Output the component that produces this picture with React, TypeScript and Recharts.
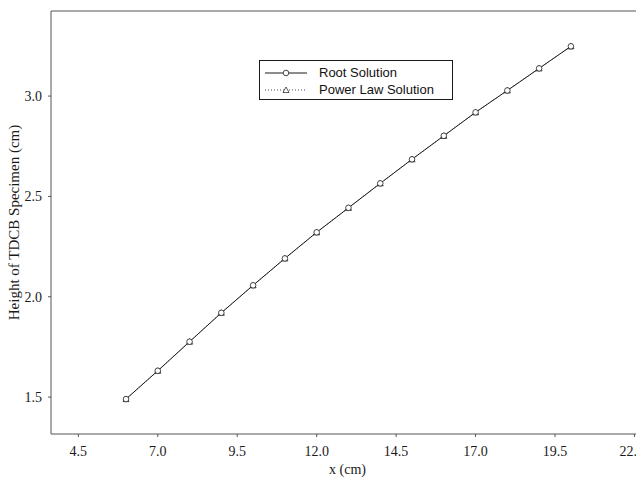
import React from "react";
import { LineChart, Line, XAxis, YAxis, ReferenceLine } from "recharts";

const lengths = [6, 7, 8, 9, 10, 11, 12, 13, 14, 15, 16, 17, 18, 19, 20];
const rootSolution = [
  1.49, 1.631, 1.776, 1.92, 2.057, 2.191, 2.321, 2.443, 2.565, 2.685, 2.802,
  2.919, 3.028, 3.138, 3.248,
];
const powerLawSolution = [
  1.49, 1.631, 1.776, 1.92, 2.057, 2.191, 2.321, 2.443, 2.565, 2.685, 2.802,
  2.919, 3.028, 3.138, 3.248,
];
const xTicks = [4.5, 7, 9.5, 12, 14.5, 17, 19.5, 22];
const yTicks = [1.5, 2, 2.5, 3];

const data = lengths.map((x, i) => ({
  x,
  root: rootSolution[i],
  power: powerLawSolution[i],
}));

const serif = "'Liberation Serif', 'DejaVu Serif', serif";
const sans = "'Liberation Sans', Arial, sans-serif";
const ink = "#1a1a1a";

const Triangle = (props: any) => {
  const { cx, cy } = props;
  if (cx == null || cy == null) return null;
  return (
    <path
      d={`M${cx},${cy - 3} L${cx + 3},${cy + 2.5} L${cx - 3},${cy + 2.5} Z`}
      fill="#fff"
      stroke={ink}
      strokeWidth={0.8}
    />
  );
};

const LegendBox = () => (
  <div
    style={{
      position: "absolute",
      left: 259,
      top: 60,
      width: 194,
      height: 40,
      border: `1px solid ${ink}`,
      background: "#fff",
      fontFamily: sans,
      fontSize: 13,
      color: "#111",
      boxSizing: "border-box",
      paddingTop: 3,
    }}
  >
    <div style={{ display: "flex", alignItems: "center", height: 17 }}>
      <svg width={56} height={10}>
        <line x1={5} y1={5} x2={47} y2={5} stroke={ink} strokeWidth={1} />
        <circle cx={26} cy={5} r={2.8} fill="#fff" stroke={ink} strokeWidth={0.8} />
      </svg>
      <span style={{ marginLeft: 3 }}>Root Solution</span>
    </div>
    <div style={{ display: "flex", alignItems: "center", height: 17 }}>
      <svg width={56} height={10}>
        <line
          x1={5}
          y1={5}
          x2={47}
          y2={5}
          stroke={ink}
          strokeWidth={0.8}
          strokeDasharray="1 2"
        />
        <path d="M26,2 L29,7.5 L23,7.5 Z" fill="#fff" stroke={ink} strokeWidth={0.7} />
      </svg>
      <span style={{ marginLeft: 3 }}>Power Law Solution</span>
    </div>
  </div>
);

export default function App() {
  return (
    <div
      style={{
        position: "relative",
        margin: "-8px 0 0 -8px",
        width: 644,
        height: 478,
        overflow: "hidden",
      }}
    >
      <LineChart
        width={644}
        height={478}
        data={data}
        margin={{ top: 11, right: 0, bottom: 0, left: 0 }}
      >
        <XAxis
          dataKey="x"
          type="number"
          domain={[3.64, 22.3]}
          ticks={xTicks}
          tickFormatter={(v: number) => v.toFixed(1)}
          tick={{ fontFamily: serif, fontSize: 14, fill: ink }}
          tickSize={3}
          tickMargin={9}
          stroke="#555"
          height={44}
          allowDataOverflow
          label={{
            value: "x (cm)",
            position: "insideBottom",
            offset: 4,
            style: { fontFamily: serif, fontSize: 14, fill: ink },
          }}
        />
        <YAxis
          type="number"
          domain={[1.316, 3.424]}
          ticks={yTicks}
          tickFormatter={(v: number) => v.toFixed(1)}
          tick={{ fontFamily: serif, fontSize: 14, fill: ink }}
          tickSize={3}
          tickMargin={6}
          stroke="#555"
          width={51}
          allowDataOverflow
          label={{
            value: "Height of TDCB Specimen (cm)",
            angle: -90,
            position: "insideLeft",
            offset: 14,
            style: { fontFamily: serif, fontSize: 15, fill: ink, textAnchor: "middle" },
          }}
        />
        <ReferenceLine y={3.424} stroke="#555" />
        <Line
          dataKey="power"
          stroke={ink}
          strokeWidth={0.8}
          strokeDasharray="1 2"
          dot={<Triangle />}
          isAnimationActive={false}
        />
        <Line
          dataKey="root"
          stroke={ink}
          strokeWidth={1}
          dot={{ r: 2.8, fill: "#fff", stroke: ink, strokeWidth: 0.8 }}
          isAnimationActive={false}
        />
      </LineChart>
      <LegendBox />
    </div>
  );
}
